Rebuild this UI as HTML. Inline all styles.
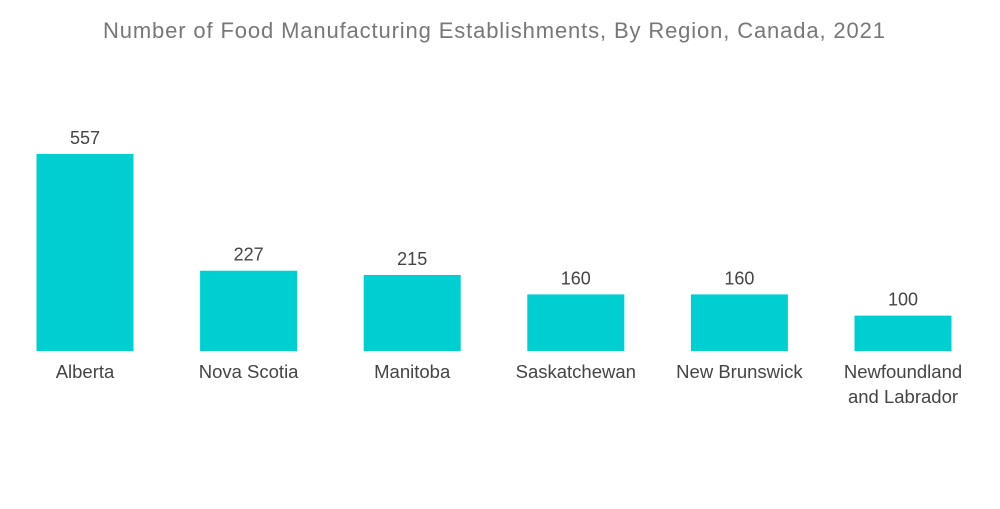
<!DOCTYPE html>
<html><head><meta charset="utf-8"><style>
body{margin:0;background:#fff;width:1000px;height:504px;overflow:hidden;font-family:"Liberation Sans",sans-serif}
</style></head><body>
<svg width="1000" height="504">
<text x="494" y="38" text-anchor="middle" font-size="22" textLength="782" lengthAdjust="spacing" fill="#777">Number of Food Manufacturing Establishments, By Region, Canada, 2021</text>
<g id="bars"></g>
</svg>
<script>
const categories=[["Alberta"],["Nova Scotia"],["Manitoba"],["Saskatchewan"],["New Brunswick"],["Newfoundland","and Labrador"]];
const values=[557,227,215,160,160,100];
const valueLabels=["557","227","215","160","160","100"];
const base=351,scale=197/557,x0=85,step=163.6,bw=97;
const y=v=>base-v*scale, xc=i=>x0+i*step;
const g=document.getElementById('bars'),ns="http://www.w3.org/2000/svg";
values.forEach((v,i)=>{
 const r=document.createElementNS(ns,'rect');
 r.setAttribute('x',xc(i)-bw/2);r.setAttribute('y',y(v));r.setAttribute('width',bw);r.setAttribute('height',base-y(v));r.setAttribute('fill','#00cfd1');
 
 
 g.appendChild(r);
 const t=document.createElementNS(ns,'text');
 t.setAttribute('x',xc(i));t.setAttribute('y',y(v)-10);t.setAttribute('text-anchor','middle');t.setAttribute('font-size','18');t.setAttribute('fill','#444');
 t.textContent=valueLabels[i];
 
 
 g.appendChild(t);
 categories[i].forEach((line,j)=>{
  const c=document.createElementNS(ns,'text');
  c.setAttribute('x',xc(i));c.setAttribute('y',378+j*25);c.setAttribute('text-anchor','middle');c.setAttribute('font-size','18.5');c.setAttribute('fill','#444');
  c.textContent=line;
  
  
  g.appendChild(c);
 });
});
</script>
</body></html>
